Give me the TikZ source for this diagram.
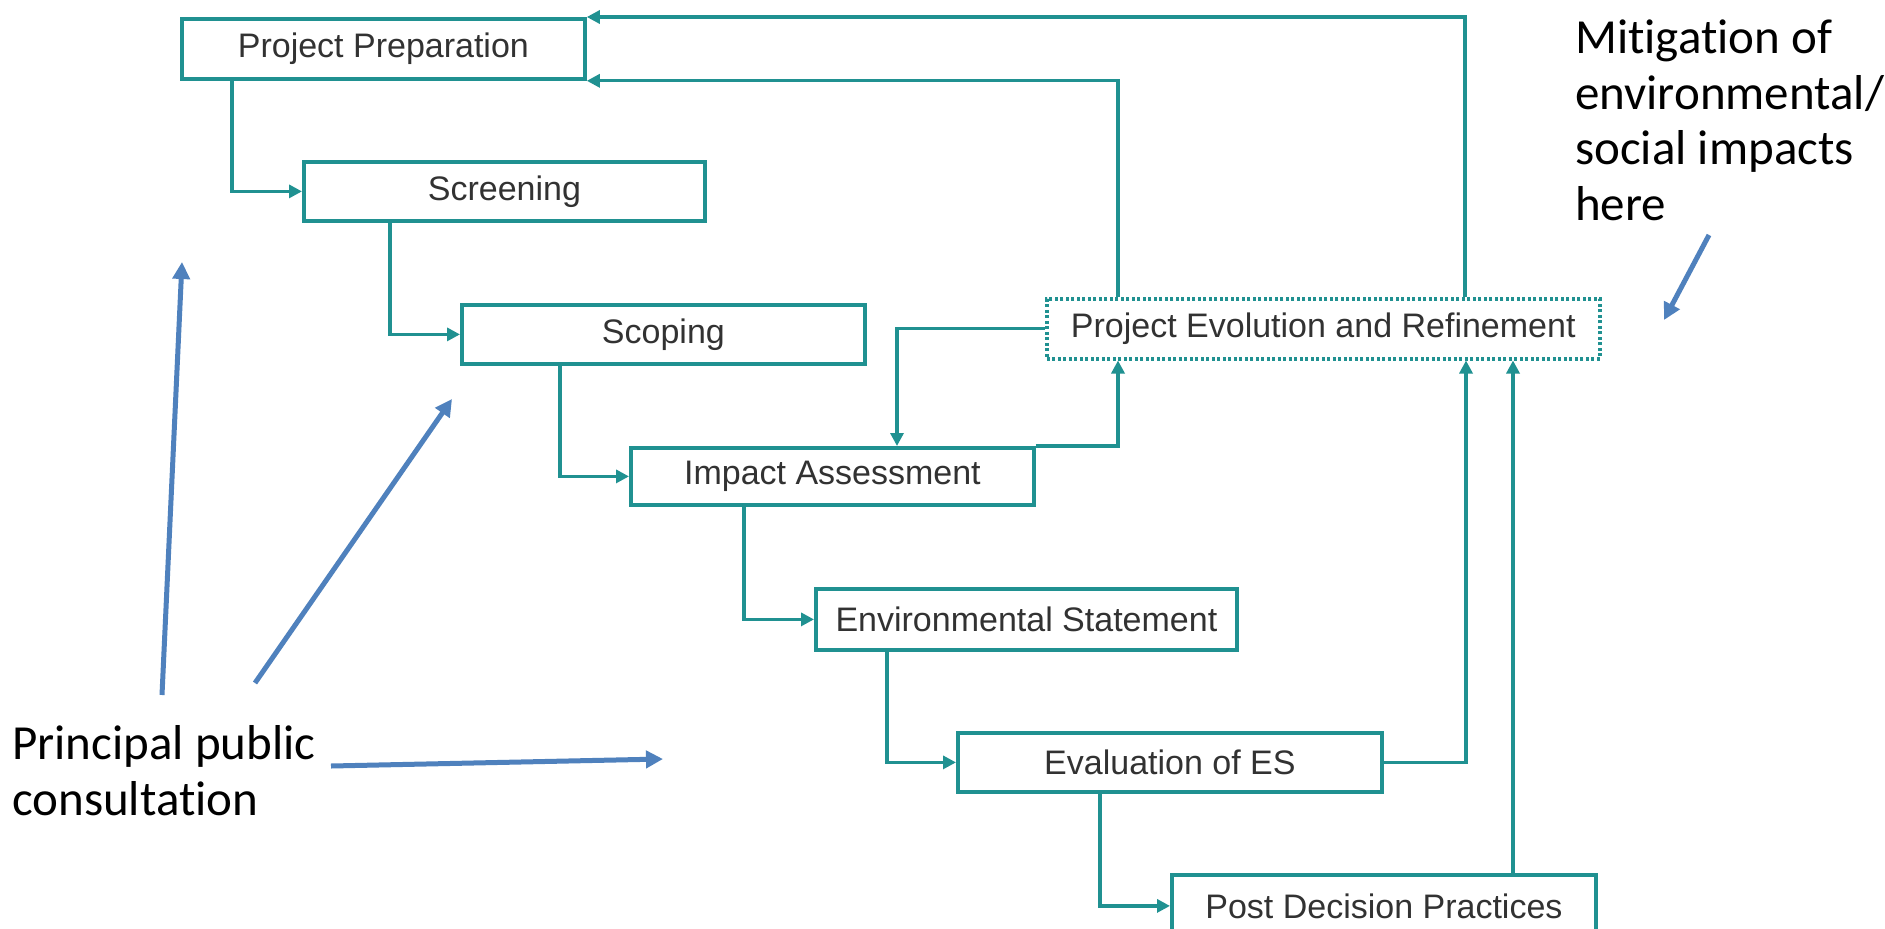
\documentclass[tikz,border=0pt]{standalone}
\usepackage{fontspec}
\setmainfont{Liberation Sans}
\newfontfamily\calibri[Ligatures=NoCommon]{Carlito}
\usetikzlibrary{arrows.meta}
\definecolor{tealmid}{RGB}{32,145,145}
\definecolor{boxtext}{RGB}{50,50,50}
\definecolor{callout}{RGB}{79,129,189}
\begin{document}
\begin{tikzpicture}[x=1pt,y=-1pt,
  box/.style={draw=tealmid, line width=3.8pt, minimum height=59pt, inner sep=0pt,
    font=\fontsize{34}{40}\selectfont, text=boxtext, anchor=north west},
  dotbox/.style={box, line width=3.5pt, dash pattern=on 3pt off 2.5pt},
  conn/.style={draw=tealmid, line width=3.2pt, -{Triangle[length=13pt,width=13pt]}},
  callarrow/.style={draw=callout, line width=5pt, -{Triangle[length=17pt,width=17pt]}},
  note/.style={anchor=base west, inner sep=0pt, align=left, text=black,
    font=\calibri\fontsize{49}{55.5}\selectfont}
]
\useasboundingbox[fill=white] (0,0) rectangle (1885,929);

% process boxes
\node[box, minimum width=403pt, minimum height=60pt] (pp)  at (180,17)  {Project Preparation};
\node[box, minimum width=401pt] (scr) at (302,160) {Screening};
\node[box, minimum width=403pt] (sco) at (460,303) {Scoping};
\node[box, minimum width=403pt, minimum height=57pt] (ia)  at (629,446) {Impact Assessment};
\node[box, minimum width=421pt, minimum height=61pt] (es)  at (814,587) {Environmental Statement};
\node[box, minimum width=424pt] (eos) at (956,731) {Evaluation of ES};
\node[box, minimum width=424pt, minimum height=62pt] (pdp) at (1170,873) {Post Decision Practices};
\node[dotbox, minimum width=553pt, minimum height=60pt] (per) at (1045,297) {Project Evolution and Refinement};

% main sequence
\draw[conn] ([xshift=52pt]pp.south west)  |- (scr.west);
\draw[conn] ([xshift=88pt]scr.south west) |- (sco.west);
\draw[conn] ([xshift=100pt]sco.south west) |- (ia.west);
\draw[conn] ([xshift=115pt]ia.south west) |- (es.west);
\draw[conn] ([xshift=73pt]es.south west)  |- (eos.west);
\draw[conn] ([xshift=144pt]eos.south west) |- (pdp.west);

% feedback loops
\draw[conn] (ia.north east) -| ([xshift=73pt]per.south west);
\draw[conn] (per.west) -| ([xshift=268pt]ia.north west);
\draw[conn] ([xshift=73pt]per.north west) |- (pp.south east);
\draw[conn] ([xshift=420pt]per.north west) |- (pp.north east);
\draw[conn] (eos.east) -| ([xshift=421pt]per.south west);
\coordinate (pdpup) at ([xshift=468pt]per.south west);
\draw[conn] (pdpup |- pdp.north) -- (pdpup);

% annotations
\node[note] (mit) at (1575,220) {Mitigation of\\environmental/\\social impacts\\here};
\node[note] (ppc) at (12,815) {Principal public\\consultation};

\coordinate (a1s) at (162,695);  \coordinate (a1e) at (182,262);
\coordinate (a2s) at (255,683);  \coordinate (a2e) at (452,399);
\coordinate (a3s) at (331,766);  \coordinate (a3e) at (663,759);
\coordinate (a4s) at (1709,235); \coordinate (a4e) at (1664,320);
\draw[callarrow] (a1s) -- (a1e);
\draw[callarrow] (a2s) -- (a2e);
\draw[callarrow] (a3s) -- (a3e);
\draw[callarrow] (a4s) -- (a4e);
\end{tikzpicture}
\end{document}
